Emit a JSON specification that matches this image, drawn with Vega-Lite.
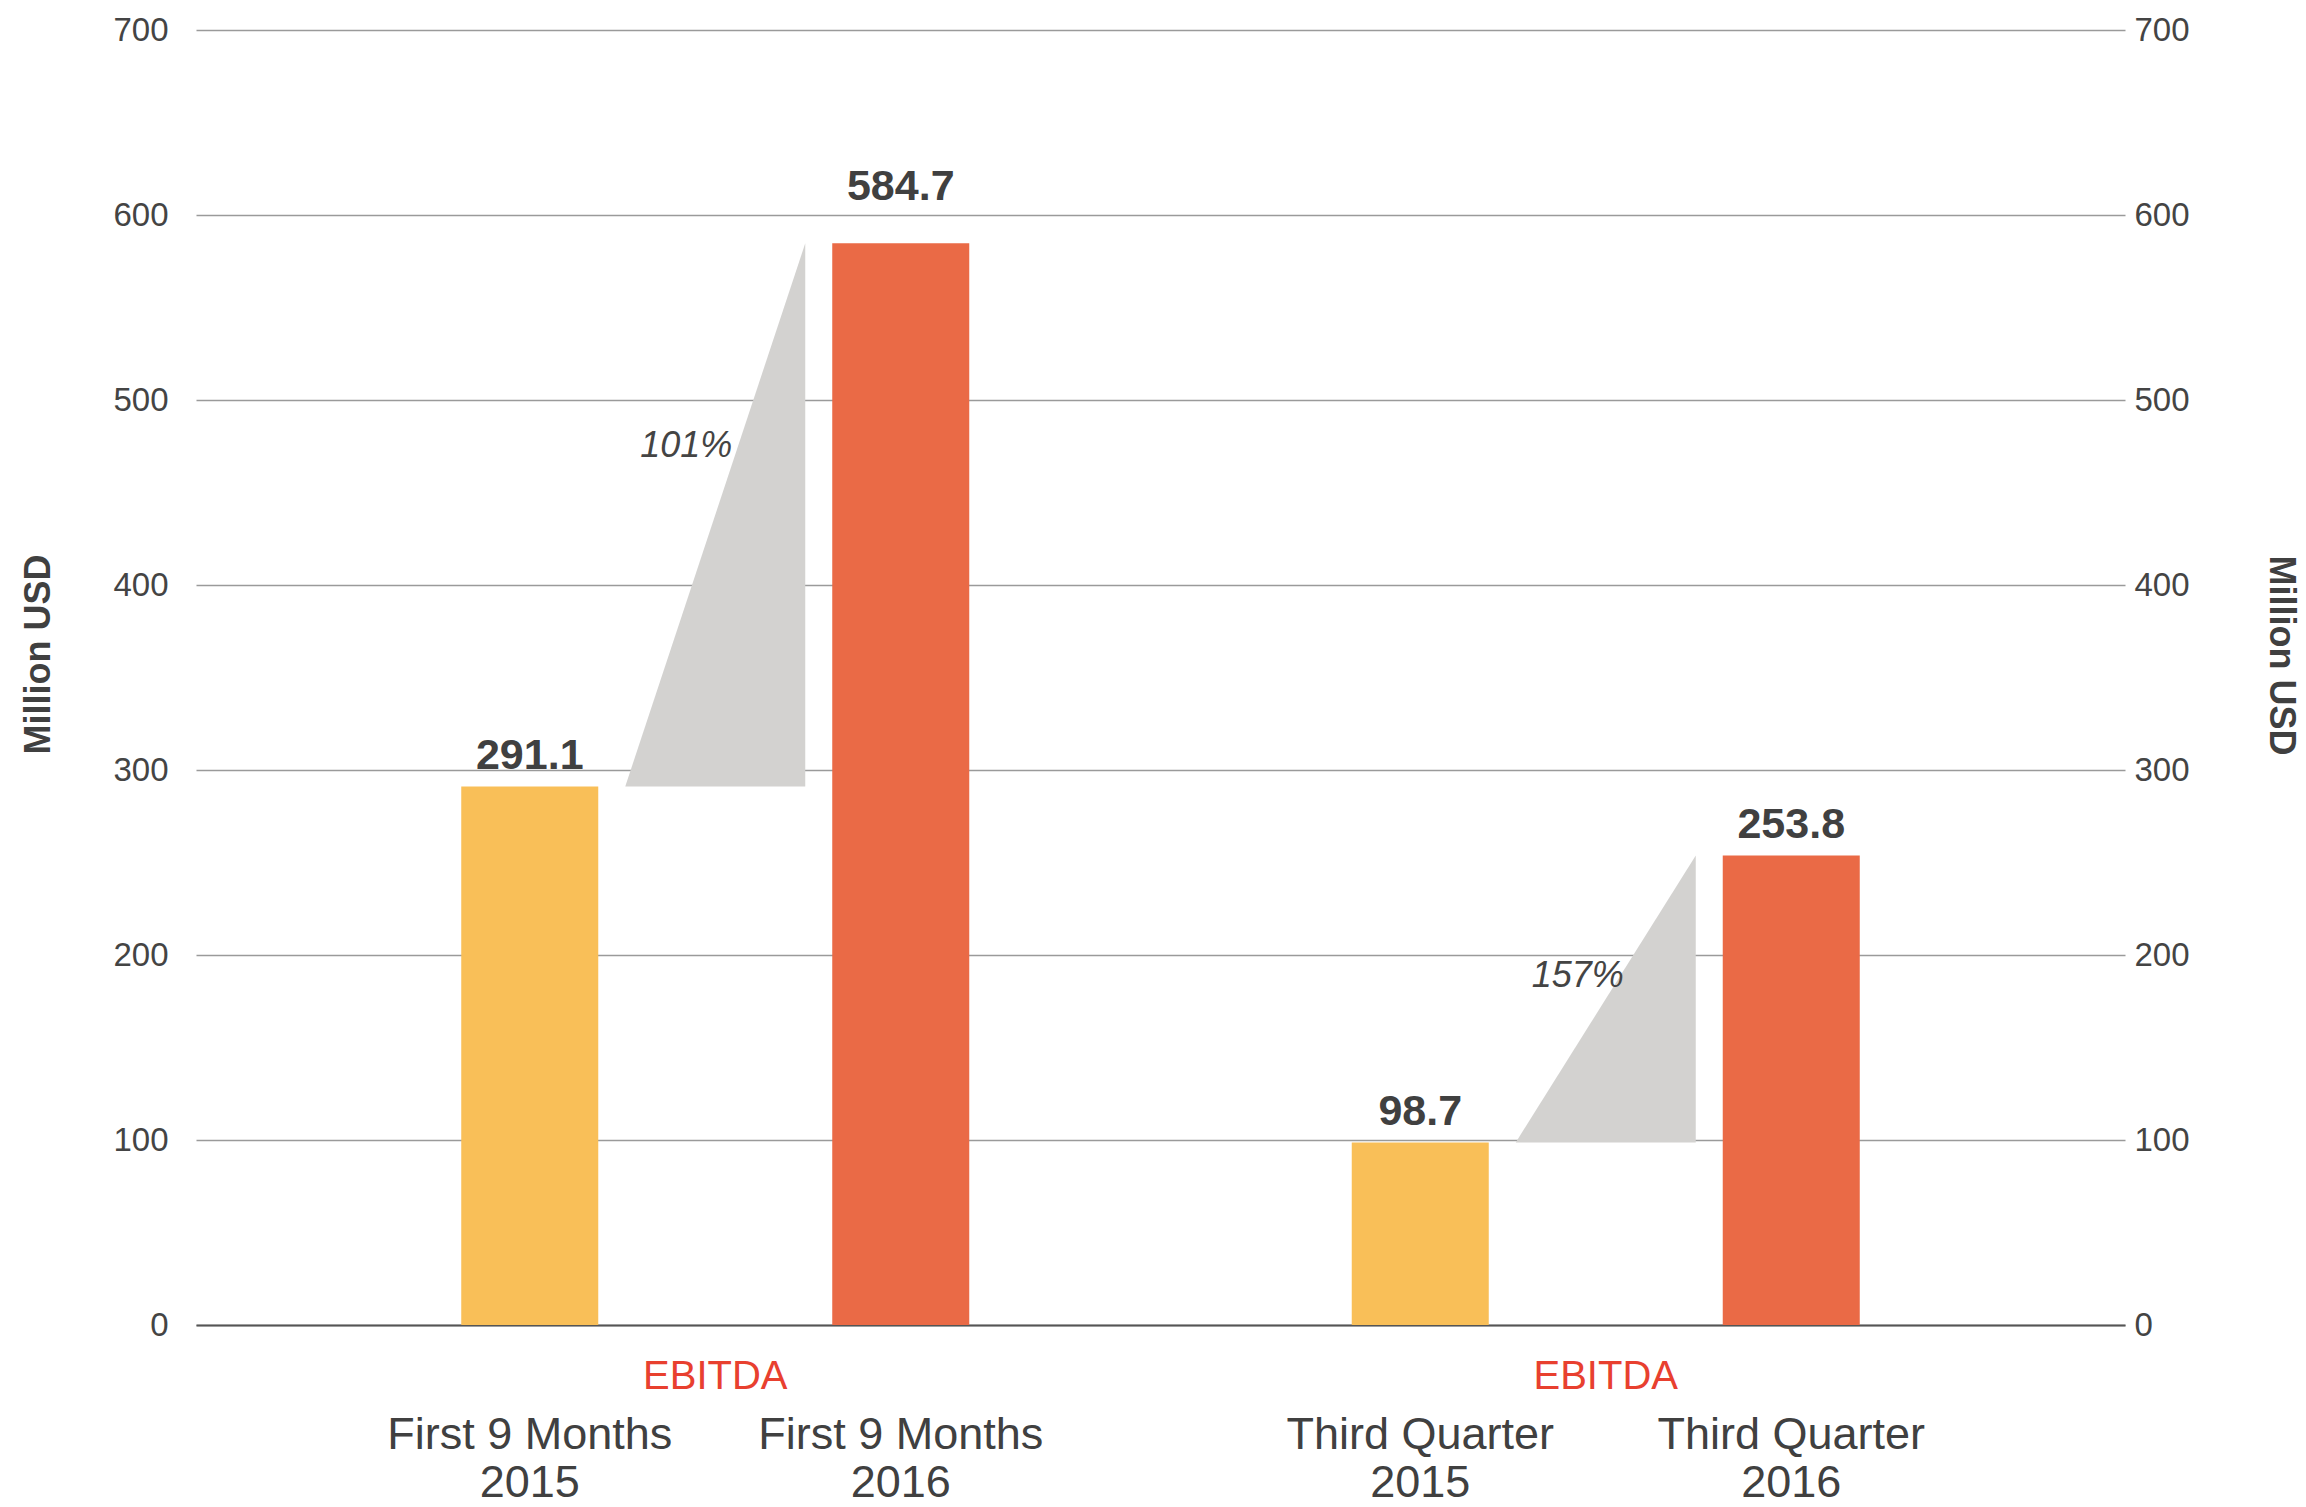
{
  "$schema": "https://vega.github.io/schema/vega-lite/v6.json",
  "width": 1929,
  "height": 1295,
  "autosize": {"type": "none"},
  "padding": {"left": 196, "top": 30, "right": 181, "bottom": 182},
  "background": "white",
  "config": {"view": {"stroke": null}, "font": "Liberation Sans"},
  "datasets": {
    "bars": [
      {"period": "First 9 Months", "year": "2015", "value": 291.1},
      {"period": "First 9 Months", "year": "2016", "value": 584.7},
      {"period": "Third Quarter", "year": "2015", "value": 98.7},
      {"period": "Third Quarter", "year": "2016", "value": 253.8}
    ],
    "growth": [
      {"period": "First 9 Months", "change": "101%", "from": 291.1, "to": 584.7},
      {"period": "Third Quarter", "change": "157%", "from": 98.7, "to": 253.8}
    ]
  },
  "resolve": {"scale": {"xOffset": "independent"}, "axis": {"y": "independent"}},
  "layer": [
    {
      "data": {"name": "bars"},
      "mark": {"type": "bar"},
      "encoding": {
        "x": {
          "field": "period", "type": "nominal", "sort": null,
          "scale": {"paddingInner": 0, "paddingOuter": 0.0831},
          "axis": {
            "title": null, "labelExpr": "'EBITDA'", "labelColor": "#E8402F",
            "labelFontSize": 40, "labelBaseline": "alphabetic", "labelPadding": 63,
            "labelAngle": 0, "ticks": false, "domain": true, "domainColor": "#555555",
            "domainWidth": 2, "grid": false
          }
        },
        "xOffset": {"field": "year", "type": "nominal", "scale": {"type": "band", "paddingInner": 0.6307, "paddingOuter": 0.5155}},
        "y": {
          "field": "value", "type": "quantitative",
          "scale": {"domain": [0, 700]},
          "axis": {
            "title": "Million USD", "values": [0, 100, 200, 300, 400, 500, 600, 700],
            "grid": true, "gridColor": "#9a9a9a", "gridWidth": 1.5,
            "domain": false, "ticks": false, "tickSize": 0, "labelPadding": 28,
            "labelFontSize": 33, "labelColor": "#444444",
            "titleFontSize": 36, "titleFontWeight": "bold", "titleColor": "#404040",
            "titleAngle": 270, "titleX": -158, "titleY": 624,
            "titleAlign": "center", "titleBaseline": "middle"
          }
        },
        "color": {"field": "year", "type": "nominal", "scale": {"range": ["#F9BF58", "#EA6A46"]}, "legend": null}
      }
    },
    {
      "data": {"name": "growth"},
      "transform": [{"fold": ["from", "to"], "as": ["end", "level"]}],
      "mark": {"type": "area", "orient": "vertical", "color": "#D3D2D0", "opacity": 1},
      "encoding": {
        "x": {"field": "period", "type": "nominal", "sort": null},
        "xOffset": {"field": "end", "type": "nominal", "scale": {"type": "point", "domain": ["pre", "from", "to", "post"], "padding": 0.9736}},
        "detail": {"field": "period", "type": "nominal"},
        "y": {
          "field": "level", "type": "quantitative",
          "axis": {
            "orient": "right", "title": "Million USD", "values": [0, 100, 200, 300, 400, 500, 600, 700],
            "grid": false, "domain": false, "ticks": false, "tickSize": 0, "labelPadding": 9,
            "labelFontSize": 33, "labelColor": "#444444",
            "titleFontSize": 36, "titleFontWeight": "bold", "titleColor": "#404040",
            "titleAngle": 90, "titleX": 155.5, "titleY": 625,
            "titleAlign": "center", "titleBaseline": "middle"
          }
        },
        "y2": {"field": "from"}
      }
    },
    {
      "data": {"name": "bars"},
      "transform": [{"filter": "!(datum.period == 'First 9 Months' && datum.year == '2016')"}],
      "mark": {"type": "text", "fontSize": 43, "fontWeight": "bold", "color": "#404040", "baseline": "alphabetic", "dy": -17},
      "encoding": {
        "x": {"field": "period", "type": "nominal", "sort": null},
        "xOffset": {"field": "year", "type": "nominal", "scale": {"type": "point", "domain": ["2015", "2016"], "padding": 0.7001}},
        "y": {"field": "value", "type": "quantitative", "axis": null},
        "text": {"field": "value", "type": "quantitative", "format": ".1f"}
      }
    },
    {
      "data": {"name": "bars"},
      "transform": [{"filter": "datum.period == 'First 9 Months' && datum.year == '2016'"}],
      "mark": {"type": "text", "fontSize": 43, "fontWeight": "bold", "color": "#404040", "baseline": "alphabetic", "dy": -43},
      "encoding": {
        "x": {"field": "period", "type": "nominal", "sort": null},
        "xOffset": {"field": "year", "type": "nominal", "scale": {"type": "point", "domain": ["2015", "2016"], "padding": 0.7001}},
        "y": {"field": "value", "type": "quantitative", "axis": null},
        "text": {"field": "value", "type": "quantitative", "format": ".1f"}
      }
    },
    {
      "data": {"name": "bars"},
      "mark": {"type": "text", "fontSize": 45, "color": "#404040", "baseline": "alphabetic", "dy": 124},
      "encoding": {
        "x": {"field": "period", "type": "nominal", "sort": null},
        "xOffset": {"field": "year", "type": "nominal", "scale": {"type": "point", "domain": ["2015", "2016"], "padding": 0.7001}},
        "y": {"datum": 0, "type": "quantitative", "axis": null},
        "text": {"field": "period", "type": "nominal"}
      }
    },
    {
      "data": {"name": "bars"},
      "mark": {"type": "text", "fontSize": 45, "color": "#404040", "baseline": "alphabetic", "dy": 172},
      "encoding": {
        "x": {"field": "period", "type": "nominal", "sort": null},
        "xOffset": {"field": "year", "type": "nominal", "scale": {"type": "point", "domain": ["2015", "2016"], "padding": 0.7001}},
        "y": {"datum": 0, "type": "quantitative", "axis": null},
        "text": {"field": "year", "type": "nominal"}
      }
    },
    {
      "data": {"name": "growth"},
      "transform": [{"filter": "datum.period == 'First 9 Months'"}],
      "mark": {"type": "text", "fontSize": 36, "fontStyle": "italic", "color": "#444444", "baseline": "middle", "dx": -29, "dy": 203},
      "encoding": {
        "x": {"field": "period", "type": "nominal", "sort": null},
        "y": {"field": "to", "type": "quantitative", "axis": null},
        "text": {"field": "change", "type": "nominal"}
      }
    },
    {
      "data": {"name": "growth"},
      "transform": [{"filter": "datum.period == 'Third Quarter'"}],
      "mark": {"type": "text", "fontSize": 36, "fontStyle": "italic", "color": "#444444", "baseline": "middle", "dx": -28, "dy": 121},
      "encoding": {
        "x": {"field": "period", "type": "nominal", "sort": null},
        "y": {"field": "to", "type": "quantitative", "axis": null},
        "text": {"field": "change", "type": "nominal"}
      }
    }
  ]
}
